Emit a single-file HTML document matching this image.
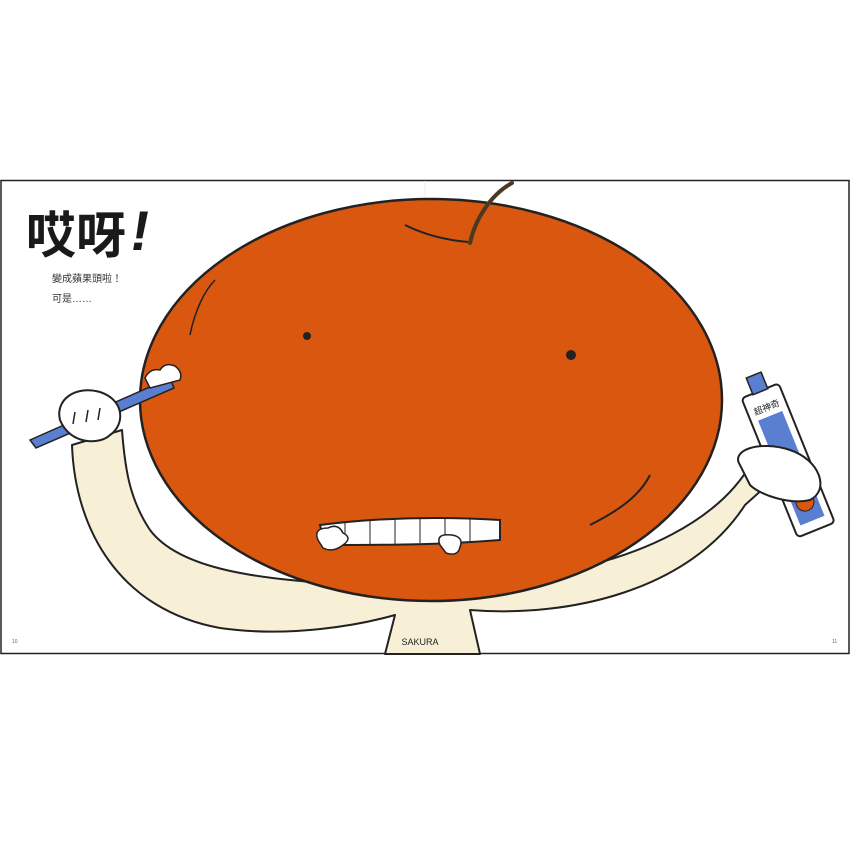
<!DOCTYPE html>
<html><head><meta charset="utf-8"><style>
html,body{margin:0;padding:0;background:#fff;width:850px;height:850px;overflow:hidden}
svg{display:block}
</style></head><body>
<svg width="850" height="850" viewBox="0 0 850 850" xmlns="http://www.w3.org/2000/svg">
<rect x="0" y="0" width="850" height="850" fill="#fff"/>
<rect x="1" y="180.5" width="848" height="473" fill="#fff" stroke="#222" stroke-width="1.5"/>
<line x1="425" y1="181" x2="425" y2="653" stroke="#eee" stroke-width="1"/>
<!-- arms & torso -->
<path d="M72,445 C75,530 120,610 220,628 C290,638 360,625 395,615 L385,654 L480,654 L470,610 C570,618 690,590 745,505 L775,478 L752,462 C720,520 640,560 540,575 C470,585 430,590 360,585 C260,580 180,570 150,530 C130,500 125,470 122,430 Z" fill="#f8f0d6" stroke="#222" stroke-width="2" stroke-linejoin="round"/>
<!-- apple -->
<ellipse cx="431" cy="400" rx="291" ry="201" fill="#d9570f" stroke="#222" stroke-width="2.5"/>
<path d="M470,243 C475,220 490,195 512,183" stroke="#4a3a20" stroke-width="4" fill="none" stroke-linecap="round"/>
<path d="M405,225 C425,235 445,240 468,242" stroke="#222" stroke-width="2" fill="none"/>
<path d="M190,335 C195,310 205,290 215,280" stroke="#222" stroke-width="1.5" fill="none"/>
<path d="M590,525 C620,510 640,495 650,475" stroke="#222" stroke-width="2" fill="none"/>
<circle cx="307" cy="336" r="4" fill="#222"/>
<circle cx="571" cy="355" r="5" fill="#222"/>
<!-- teeth -->
<path d="M320,525 C360,520 420,515 500,520 L500,540 C440,545 380,545 325,545 Z" fill="#fff" stroke="#222" stroke-width="2"/>
<path d="M345,522 V545 M370,520 V545 M395,519 V544 M420,518 V543 M445,518 V542 M470,519 V541" stroke="#222" stroke-width="1"/>
<path d="M318,540 q-5,-12 10,-12 q10,-5 15,5 q10,5 0,12 q-10,8 -20,3 z" fill="#fff" stroke="#222" stroke-width="1.5"/>
<path d="M440,545 q-5,-12 12,-10 q12,2 8,12 q-2,10 -14,6 z" fill="#fff" stroke="#222" stroke-width="1.5"/>
<!-- toothbrush -->
<path d="M30,440 L170,378 L174,388 L36,448 Z" fill="#5b7fd0" stroke="#222" stroke-width="1.5"/>
<path d="M145,378 q5,-10 15,-8 q5,-8 15,-4 q8,6 5,14 l-30,8 z" fill="#fff" stroke="#222" stroke-width="1.5"/>
<!-- left hand -->
<path d="M60,420 C55,400 75,385 100,392 C125,400 125,425 110,435 C100,445 70,445 60,420 Z" fill="#fff" stroke="#222" stroke-width="2"/>
<path d="M75,412 l-2,12 M88,410 l-2,12 M100,408 l-2,12" stroke="#222" stroke-width="1.5"/>
<!-- toothpaste -->
<g transform="rotate(-22 790 465)">
<rect x="770" y="385" width="40" height="150" rx="4" fill="#fff" stroke="#222" stroke-width="2"/>
<rect x="777" y="412" width="26" height="113" fill="#5b7fd0"/>
<rect x="782" y="368" width="16" height="18" fill="#5b7fd0" stroke="#222" stroke-width="1.5"/>
<circle cx="790" cy="505" r="9" fill="#d9570f" stroke="#222"/>
<text x="790" y="406" font-size="9" text-anchor="middle" font-family="Liberation Sans, Noto Sans CJK TC, sans-serif" fill="#222">超神奇</text>
</g>
<!-- right hand -->
<path d="M740,465 C730,450 760,440 790,450 C820,460 830,490 810,500 C790,505 760,495 750,485 Z" fill="#fff" stroke="#222" stroke-width="2"/>
<text x="420" y="645" font-size="9" text-anchor="middle" font-family="Liberation Sans, sans-serif" fill="#222">SAKURA</text>
<!-- text -->
<text x="26" y="253" font-size="50" font-weight="bold" fill="#1a1a1a" font-family="Liberation Sans, Noto Sans CJK TC, sans-serif">哎呀</text>
<text x="128" y="250" font-size="56" font-weight="bold" fill="#1a1a1a" font-family="Liberation Sans, sans-serif" transform="skewX(-10) translate(44 0)">!</text>
<text x="52" y="282" font-size="10" fill="#333" font-family="Liberation Sans, Noto Sans CJK TC, sans-serif">變成蘋果頭啦！</text>
<text x="52" y="302" font-size="10" fill="#333" font-family="Liberation Sans, Noto Sans CJK TC, sans-serif">可是……</text>
<text x="12" y="643" font-size="5" fill="#666" font-family="Liberation Sans, sans-serif">10</text>
<text x="832" y="643" font-size="5" fill="#666" font-family="Liberation Sans, sans-serif">11</text>
</svg>
</body></html>
